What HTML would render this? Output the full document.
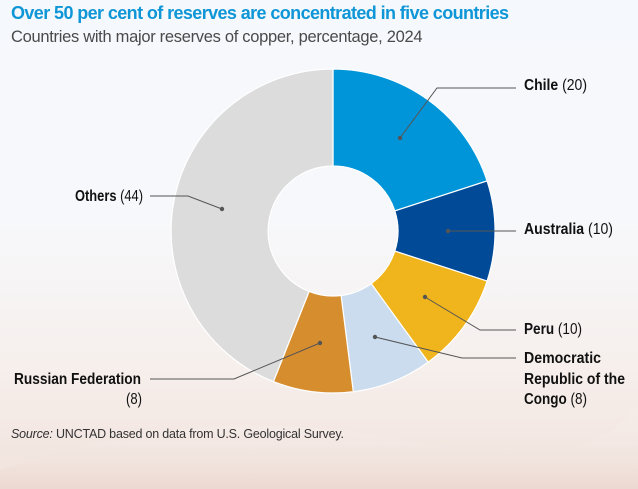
<!DOCTYPE html>
<html><head><meta charset="utf-8"><style>
body{margin:0;width:638px;height:489px;overflow:hidden;font-family:"Liberation Sans",sans-serif;
background:linear-gradient(180deg,#f5f8fc 0%,#f7f8fb 45%,#f6efec 75%,#f1e2dc 100%);}
</style></head><body>
<svg width="638" height="489" viewBox="0 0 638 489" style="position:absolute;left:0;top:0">
<defs><linearGradient id="w" x1="0" y1="0" x2="0" y2="1"><stop offset="0" stop-color="#fff" stop-opacity="0"/><stop offset="1" stop-color="#e9d3ca" stop-opacity="0.6"/></linearGradient></defs>
<path d="M0 470 Q200 400 400 440 T638 400 L638 489 L0 489Z" fill="url(#w)"/>
<text x="11" y="19" font-size="18" font-weight="bold" fill="#0f96d7" letter-spacing="-0.6">Over 50 per cent of reserves are concentrated in five countries</text>
<text x="11" y="42" font-size="16.5" fill="#4a4a4a" letter-spacing="-0.3">Countries with major reserves of copper, percentage, 2024</text>
<g stroke="#fff" stroke-width="1.2">
<path d="M333 69 A162 162 0 0 1 487.1 180.9 L394.8 210.9 A65 65 0 0 0 333 166Z" fill="#0095d9"/>
<path d="M487.1 180.9 A162 162 0 0 1 487.1 281.1 L394.8 251.1 A65 65 0 0 0 394.8 210.9Z" fill="#004a97"/>
<path d="M487.1 281.1 A162 162 0 0 1 428.2 362.1 L371.2 283.6 A65 65 0 0 0 394.8 251.1Z" fill="#f0b41c"/>
<path d="M428.2 362.1 A162 162 0 0 1 353.3 391.7 L341.1 295.5 A65 65 0 0 0 371.2 283.6Z" fill="#cadcee"/>
<path d="M353.3 391.7 A162 162 0 0 1 273.4 381.6 L309.1 291.4 A65 65 0 0 0 341.1 295.5Z" fill="#d68d2e"/>
<path d="M273.4 381.6 A162 162 0 0 1 333 69 L333 166 A65 65 0 0 0 309.1 291.4Z" fill="#dcdcdc"/>
</g>
<g stroke="#555" stroke-width="1" fill="none">
<polyline points="400,138 437,88 516,88"/>
<polyline points="448,231 516,231"/>
<polyline points="425,297 480,330 516,330"/>
<polyline points="375,337 462,358 516,358"/>
<polyline points="320,343 234,379 150,379"/>
<polyline points="222,209 188,196 150,196"/>
</g>
<g fill="#555"><circle cx="400" cy="138" r="2.2"/><circle cx="448" cy="231" r="2.2"/><circle cx="425" cy="297" r="2.2"/><circle cx="375" cy="337" r="2.2"/><circle cx="320" cy="343" r="2.2"/><circle cx="222" cy="209" r="2.2"/></g>
<g font-size="15.5" fill="#111" lengthAdjust="spacingAndGlyphs">
<text x="524" y="90" textLength="63" lengthAdjust="spacingAndGlyphs"><tspan font-weight="bold">Chile</tspan> (20)</text>
<text x="524" y="234" textLength="89" lengthAdjust="spacingAndGlyphs"><tspan font-weight="bold">Australia</tspan> (10)</text>
<text x="524" y="334" textLength="58" lengthAdjust="spacingAndGlyphs"><tspan font-weight="bold">Peru</tspan> (10)</text>
<text x="524" y="363" font-weight="bold" textLength="77" lengthAdjust="spacingAndGlyphs">Democratic</text>
<text x="524" y="384" font-weight="bold" textLength="101" lengthAdjust="spacingAndGlyphs">Republic of the</text>
<text x="524" y="404" textLength="63" lengthAdjust="spacingAndGlyphs"><tspan font-weight="bold">Congo</tspan> (8)</text>
<text x="14" y="384" font-weight="bold" textLength="127" lengthAdjust="spacingAndGlyphs">Russian Federation</text>
<text x="126" y="404" textLength="16" lengthAdjust="spacingAndGlyphs">(8)</text>
<text x="75" y="201" textLength="68" lengthAdjust="spacingAndGlyphs"><tspan font-weight="bold">Others</tspan> (44)</text>
</g>
<text x="11" y="438" font-size="12.5" fill="#333" letter-spacing="-0.2"><tspan font-style="italic">Source:</tspan> UNCTAD based on data from U.S. Geological Survey.</text>
</svg>
</body></html>
